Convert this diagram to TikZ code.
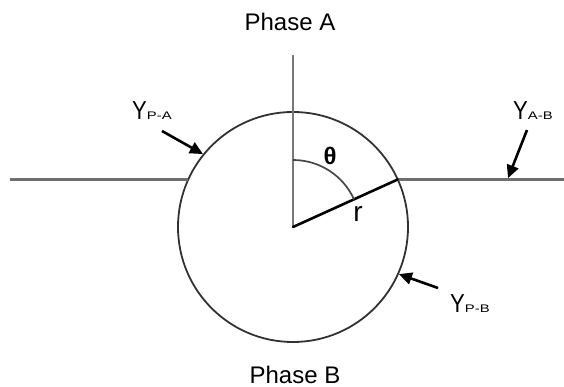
\documentclass[tikz,border=0pt]{standalone}
\usepackage{fontspec}
\usepackage{graphicx}
\setmainfont{Liberation Sans}
\usetikzlibrary{arrows.meta}
\definecolor{hgray}{RGB}{110,110,110}
\definecolor{vgray}{RGB}{120,120,120}
\definecolor{cgray}{RGB}{50,50,50}
\definecolor{agray}{RGB}{70,70,70}
\newcommand{\gsub}[2]{{\fontsize{26}{26}\selectfont\scalebox{0.85}[1]{#1}}{\fontsize{11}{11}\selectfont\scalebox{1.35}[1]{#2}}}
\begin{document}
\begin{tikzpicture}[x=1pt,y=1pt,
  hline/.style={draw=hgray, line width=2.8pt},
  vline/.style={draw=vgray, line width=2pt},
  radline/.style={draw=black, line width=2.6pt, line cap=round},
  arcline/.style={draw=agray, line width=1.7pt},
  ptr/.style={draw=black, line width=2.6pt, -{Triangle[length=13pt,width=12pt]}},
  lab/.style={inner sep=0pt, font=\fontsize{24}{24}\selectfont},
  ylab/.style={inner sep=0pt, anchor=base west}]
\useasboundingbox (0,0) rectangle (564,387);
% geometry
\coordinate (O) at (293,160);
\coordinate (Vtop) at (293,332);
\coordinate (Lend) at (10,207.5);
\coordinate (Rend) at (564,207.5);
\node[circle, draw=cgray, line width=1.8pt, minimum size=230pt, inner sep=0pt] (C) at (O) {};
\coordinate (Lx) at (188.3,207.5);
\coordinate (Rx) at (397.7,207.5);
% lines
\draw[hline] (Lend) -- (Lx);
\draw[hline] (Rx) -- (Rend);
\draw[vline] (Vtop) -- (O);
\draw[radline] (O) -- (Rx);
\draw[arcline] ([shift={(90:67)}]O) arc[start angle=90, end angle=24.4, radius=67];
% labels
\node[lab] (phA) at (290,365) {Phase A};
\node[lab] (phB) at (295,12.5) {Phase B};
\node[inner sep=0pt, font=\fontsize{24}{24}\selectfont\bfseries] (th) at (330,231) {θ};
\node[inner sep=0pt, font=\fontsize{28}{28}\selectfont] (rr) at (358,173) {r};
\node[ylab] (ypa) at (132,267) {\gsub{Y}{P-A}};
\node[ylab] (yab) at (513,267) {\gsub{Y}{A-B}};
\node[ylab] (ypb) at (450,74) {\gsub{Y}{P-B}};
% pointers
\coordinate (pa0) at (162,256);
\coordinate (ab0) at (527,257);
\coordinate (abt) at (508,208.8);
\coordinate (pb0) at (438,99);
\draw[ptr] (pa0) -- (C.141);
\draw[ptr] (ab0) -- (abt);
\draw[ptr] (pb0) -- (C.-24.3);
\end{tikzpicture}
\end{document}
